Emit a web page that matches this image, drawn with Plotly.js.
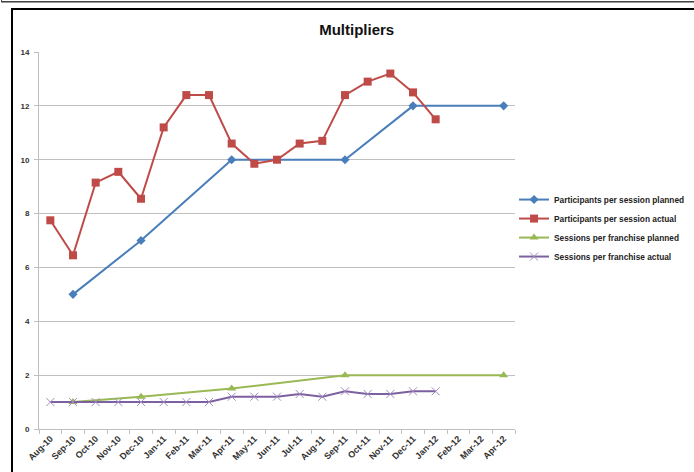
<!DOCTYPE html>
<html>
<head>
<meta charset="utf-8">
<script src="https://cdn.plot.ly/plotly-3.0.1.min.js"></script>
<style>
  html, body { margin: 0; padding: 0; width: 694px; height: 472px; overflow: hidden; background: #fff; }
  #topstrip { position: absolute; left: 1px; top: -10px; width: 720px; height: 11px; border: 1.5px solid #444; border-top: none; box-shadow: 0 1px 0 #999; }
  #frame { position: absolute; left: 11px; top: 8px; width: 720px; height: 500px; border: 2.5px solid #000; }
  #chart { position: absolute; left: 0; top: 0; width: 694px; height: 472px; }
</style>
</head>
<body>
<div id="topstrip"></div>
<div id="frame"></div>
<div id="chart"></div>
<script>
const months = ["Aug-10","Sep-10","Oct-10","Nov-10","Dec-10","Jan-11","Feb-11","Mar-11","Apr-11","May-11","Jun-11","Jul-11","Aug-11","Sep-11","Oct-11","Nov-11","Dec-11","Jan-12","Feb-12","Mar-12","Apr-12"];
const participantsPlanned = [null,5,null,null,7,null,null,null,10,null,null,null,null,10,null,null,12,null,null,null,12];
const participantsActual = [7.75,6.45,9.15,9.55,8.55,11.2,12.4,12.4,10.6,9.85,10.0,10.6,10.7,12.4,12.9,13.2,12.5,11.5,null,null,null];
const sessionsPlanned = [null,1,null,null,1.2,null,null,null,1.5,null,null,null,null,2,null,null,null,null,null,null,2];
const sessionsActual = [1,1,1,1,1,1,1,1,1.2,1.2,1.2,1.3,1.2,1.4,1.3,1.3,1.4,1.4,null,null,null];
const seriesNames = ["Participants per session planned","Participants per session actual","Sessions per franchise planned","Sessions per franchise actual"];

const traces = [
  {x: months, y: participantsPlanned, name: seriesNames[0], mode: "lines+markers", connectgaps: true,
   line: {color: "#4A7EBB", width: 2}, marker: {symbol: "diamond", size: 7, color: "#4A7EBB"}},
  {x: months, y: participantsActual, name: seriesNames[1], mode: "lines+markers", connectgaps: true,
   line: {color: "#BE4B48", width: 2}, marker: {symbol: "square", size: 8, color: "#BE4B48"}},
  {x: months, y: sessionsPlanned, name: seriesNames[2], mode: "lines+markers", connectgaps: true,
   line: {color: "#98B954", width: 2}, marker: {symbol: "triangle-up", size: 8, color: "#98B954"}},
  {x: months, y: sessionsActual, name: seriesNames[3], mode: "lines+markers", connectgaps: true,
   line: {color: "#7D60A0", width: 2}, marker: {symbol: "x-thin-open", size: 8, color: "#A08CC0", line: {width: 1, color: "#A08CC0"}}}
];

const layout = {
  width: 694, height: 472,
  margin: {l: 39, r: 179, t: 52, b: 43, pad: 0, autoexpand: false},
  paper_bgcolor: "rgba(0,0,0,0)",
  plot_bgcolor: "rgba(0,0,0,0)",
  font: {family: "Liberation Sans, Arial, sans-serif", color: "#222"},
  title: {text: "Multipliers", font: {size: 15, weight: "bold", family: "Liberation Sans, Arial, sans-serif", color: "#111"},
          x: 0.514, xref: "container", xanchor: "center", y: 0.936, yref: "container", yanchor: "middle"},
  xaxis: {type: "category", categoryorder: "array", categoryarray: months, range: [-0.5, 20.5],
          showgrid: false, showline: true, linecolor: "#BFBFBF", linewidth: 1,
          ticks: "outside", tickson: "boundaries", ticklen: 4, tickcolor: "#BFBFBF", automargin: false,
          tickangle: -45, tickfont: {size: 9, weight: "bold", color: "#333"}, fixedrange: true, zeroline: false},
  yaxis: {range: [0, 14], dtick: 2, showgrid: true, gridcolor: "#C0C0C0", gridwidth: 1, automargin: false,
          showline: true, linecolor: "#BFBFBF", linewidth: 1, ticks: "outside", ticklen: 4, tickcolor: "#BFBFBF",
          ticklabelstandoff: 3,
          tickfont: {size: 8, weight: "bold", color: "#333"}, zeroline: false, fixedrange: true},
  showlegend: true,
  legend: {x: 0.998, xanchor: "left", y: 0.533, yanchor: "middle", bgcolor: "rgba(0,0,0,0)",
           font: {size: 8.3, weight: "bold", color: "#222"}, itemwidth: 30, tracegroupgap: 0},
};

Plotly.newPlot("chart", traces, layout, {displayModeBar: false, staticPlot: true});
</script>
</body>
</html>
